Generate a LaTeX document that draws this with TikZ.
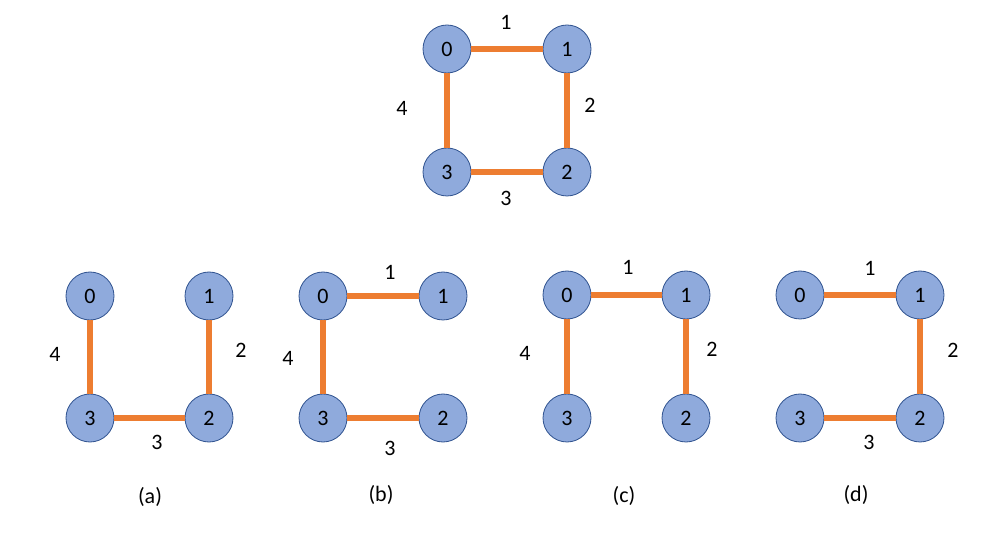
\documentclass[tikz,border=0pt]{standalone}
\usepackage{fontspec}
\setmainfont{Carlito}
\definecolor{nodefill}{HTML}{8FAADC}
\definecolor{nodeline}{HTML}{2F528F}
\definecolor{edgecol}{HTML}{ED7D31}
\begin{document}
\begin{tikzpicture}[x=1pt,y=-1pt,
  vtx/.style={circle,draw=nodeline,fill=nodefill,line width=0.8pt,minimum size=48pt,inner sep=0pt,font=\fontsize{22}{26}\selectfont},
  edg/.style={draw=edgecol,line width=6pt},
  lbl/.style={font=\fontsize{22}{26}\selectfont,inner sep=0pt},
  captxt/.style={font=\fontsize{22}{26}\selectfont,inner sep=0pt}]
\useasboundingbox (0,0) rectangle (1005,545);
% top graph
\node[vtx] (t0) at (447,49) {0};
\node[vtx] (t1) at (567,49) {1};
\node[vtx] (t3) at (447,172) {3};
\node[vtx] (t2) at (567,172) {2};
\draw[edg] (t0) -- (t1);
\draw[edg] (t1) -- (t2);
\draw[edg] (t2) -- (t3);
\draw[edg] (t3) -- (t0);
\node[lbl] (tl1) at (506,22) {1};
\node[lbl] (tl2) at (590,105) {2};
\node[lbl] (tl3) at (506,198) {3};
\node[lbl] (tl4) at (402,108) {4};
% (a)
\node[vtx] (a0) at (90,296) {0};
\node[vtx] (a1) at (209,296) {1};
\node[vtx] (a3) at (90,418) {3};
\node[vtx] (a2) at (209,418) {2};
\draw[edg] (a0) -- (a3);
\draw[edg] (a3) -- (a2);
\draw[edg] (a2) -- (a1);
\node[lbl] (al4) at (55,354) {4};
\node[lbl] (al2) at (241,350) {2};
\node[lbl] (al3) at (157,442) {3};
\node[captxt] (acap) at (150,497) {(a)};
% (b)
\node[vtx] (b0) at (323,296) {0};
\node[vtx] (b1) at (443,296) {1};
\node[vtx] (b3) at (323,418) {3};
\node[vtx] (b2) at (443,418) {2};
\draw[edg] (b0) -- (b1);
\draw[edg] (b0) -- (b3);
\draw[edg] (b3) -- (b2);
\node[lbl] (bl1) at (390,272) {1};
\node[lbl] (bl4) at (288,358) {4};
\node[lbl] (bl3) at (390,448) {3};
\node[captxt] (bcap) at (381,495) {(b)};
% (c)
\node[vtx] (c0) at (567,295) {0};
\node[vtx] (c1) at (686,295) {1};
\node[vtx] (c3) at (567,418) {3};
\node[vtx] (c2) at (686,418) {2};
\draw[edg] (c0) -- (c1);
\draw[edg] (c0) -- (c3);
\draw[edg] (c1) -- (c2);
\node[lbl] (cl1) at (628,267) {1};
\node[lbl] (cl4) at (525,353) {4};
\node[lbl] (cl2) at (712,349) {2};
\node[captxt] (ccap) at (624,496) {(c)};
% (d)
\node[vtx] (d0) at (800,295) {0};
\node[vtx] (d1) at (920,295) {1};
\node[vtx] (d3) at (800,418) {3};
\node[vtx] (d2) at (920,418) {2};
\draw[edg] (d0) -- (d1);
\draw[edg] (d1) -- (d2);
\draw[edg] (d3) -- (d2);
\node[lbl] (dl1) at (870,268) {1};
\node[lbl] (dl2) at (953,350) {2};
\node[lbl] (dl3) at (869,442) {3};
\node[captxt] (dcap) at (856,495) {(d)};
\end{tikzpicture}
\end{document}
